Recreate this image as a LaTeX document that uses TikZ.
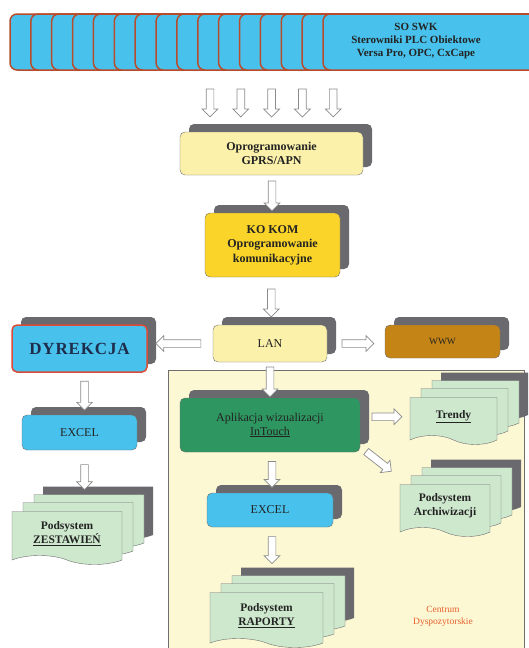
\documentclass[tikz,border=0pt]{standalone}
\usepackage{fontspec}
\setmainfont{Liberation Serif}
\usetikzlibrary{
  calc,
  shapes.arrows,
  shapes.symbols,
  shadows
  }
\definecolor{cyjan}{RGB}{72,194,236}
\definecolor{cegla}{RGB}{185,75,45}
\definecolor{zolty}{RGB}{251,241,170}
\definecolor{zloty}{RGB}{250,212,40}
\definecolor{braz}{RGB}{196,132,22}
\definecolor{zielony}{RGB}{46,150,96}
\definecolor{mieta}{RGB}{206,232,206}
\definecolor{krem}{RGB}{253,248,212}
\definecolor{szary}{RGB}{105,105,110}
\definecolor{ramka}{RGB}{110,110,110}
\definecolor{tekst}{RGB}{35,35,35}
\definecolor{granat}{RGB}{30,45,75}
\definecolor{czerwony}{RGB}{220,75,55}
\definecolor{pomarancz}{RGB}{230,95,45}

\begin{document}
\begin{tikzpicture}[x=1pt, y=-1pt]
    \useasboundingbox (0,0) rectangle (529,648);
    \tikzset{
      txt/.style = {font=\fontsize{12}{14}\selectfont, text=tekst, align=center},
      box/.style 2 args = {txt, draw=ramka, rounded corners=5pt, minimum width=#1, minimum height=#2, inner sep=2pt,
        general shadow={shadow xshift=9pt, shadow yshift=8pt, fill=szary, opacity=1}},
      dok/.style 2 args = {txt, font=\fontsize{11.5}{14}\selectfont\bfseries, shape=tape, tape bend top=none,
        tape bend bottom=out and in, tape bend height=9pt,
        draw=ramka, fill=mieta, minimum width=#1, minimum height=#2, inner sep=2pt,
        general shadow={shadow xshift=31pt, shadow yshift=25pt, fill=szary, opacity=1},
        general shadow={shadow xshift=22pt, shadow yshift=17pt, fill=mieta, draw=ramka, opacity=1},
        general shadow={shadow xshift=11pt, shadow yshift=9pt, fill=mieta, draw=ramka, opacity=1}},
      strz/.style = {single arrow, draw=ramka!80, fill=white, line width=0.7pt, inner sep=3.5pt,
        single arrow head extend=4pt, minimum height=#1},
      tab/.style = {draw=cegla, fill=cyjan, line width=1.5pt, rounded corners=7pt}
    }
    % centrum
    \draw[draw=ramka, fill=krem, line width=0.8pt] (168,370) rectangle (524,660);
    % pasek
    \begin{scope}
      \clip (0,0) rectangle (529,648);
      \foreach \i in {0,...,15}
        \draw[tab] (10+\i*20.87,14) rectangle (560,70);
    \end{scope}
    \node[txt, font=\fontsize{11}{13}\selectfont\bfseries] (nswk) at (416,41) {SO SWK\\Sterowniki PLC Obiektowe\\Versa Pro, OPC, CxCape};

    % bloki
    \node[box={183pt}{43pt}, fill=zolty, font=\fontsize{12}{13.5}\selectfont\bfseries] (ngprs) at (271.5,153.5) {Oprogramowanie\\GPRS/APN};
    \node[box={135pt}{64pt}, fill=zloty, font=\fontsize{12}{14.5}\selectfont\bfseries] (nkokom) at (272.5,245) {KO KOM\\Oprogramowanie\\komunikacyjne};
    \node[box={114pt}{37pt}, fill=zolty] (nlan) at (270,343.5) {LAN};
    \node[box={135pt}{47pt}, fill=cyjan, draw=czerwony, line width=1.5pt, text=granat,
      font=\fontsize{17}{19}\selectfont\bfseries\addfontfeature{LetterSpace=5}] (ndyr) at (79.5,348.5) {DYREKCJA};
    \node[box={115pt}{33pt}, fill=braz, font=\fontsize{9.5}{11}\selectfont] (nwww) at (442.5,341.5) {WWW};
    \node[box={180pt}{54pt}, fill=zielony] (napp) at (270,425) {Aplikacja wizualizacji\\\underline{InTouch}};
    \node[box={115pt}{35pt}, fill=cyjan] (nexl) at (79.5,432.5) {EXCEL};
    \node[box={126pt}{34pt}, fill=cyjan] (nexm) at (270,510) {EXCEL};

    % dokumenty
    \node[dok={87pt}{47pt}] (ntrendy) at (453.5,416.5) {\underline{Trendy}};
    \node[dok={90pt}{52pt}] (narch) at (445,506) {Podsystem\\Archiwizacji};
    \node[dok={110pt}{53pt}] (nzest) at (67,533.5) {Podsystem\\\underline{ZESTAWIEŃ}};
    \node[dok={113pt}{55pt}] (nrap) at (266.5,615.5) {Podsystem\\\underline{RAPORTY}};
    \node[txt, text=pomarancz, font=\fontsize{9.5}{12}\selectfont] (ncd) at (443,616) {Centrum\\Dyspozytorskie};

    % strzalki
    \foreach \i in {0,...,4}
      \node[strz=28pt, shape border rotate=270] (ns\i) at (210+\i*30.8,101) {};
    \node[strz=30pt, shape border rotate=270] (ns5) at ($(ngprs.south)!.5!(nkokom.north)$) {};
    \node[strz=28pt, shape border rotate=270] (ns6) at ($(nkokom.south)!.5!(nlan.north)$) {};
    \node[strz=45pt, shape border rotate=180] (ns7) at ($(nlan.west)!.5!(ndyr.east |- nlan.west)$) {};
    \node[strz=32pt] (ns8) at ($(nlan.east)!.5!(nwww.west |- nlan.east)$) {};
    \node[strz=30pt, shape border rotate=270] (ns9) at ($(nlan.south)!.5!(napp.north)$) {};
    \node[strz=30pt] (ns10) at ($(napp.east)!.5!(ntrendy.west)+(0,-4)$) {};
    \node[strz=32pt, rotate=-38] (ns11) at ($(napp.south east)+(17,8)$) {};
    \node[strz=29pt, shape border rotate=270] (ns12) at ($(ndyr.south)!.5!(nexl.north)+(5,0)$) {};
    \node[strz=25pt, shape border rotate=270] (ns13) at ($(nexl.south)+(5,25)$) {};
    \node[strz=26pt, shape border rotate=270] (ns14) at ($(napp.south)!.5!(nexm.north)+(2,0)$) {};
    \node[strz=27pt, shape border rotate=270] (ns15) at ($(nexm.south)+(2,21)$) {};

  \end{tikzpicture}
\end{document}
